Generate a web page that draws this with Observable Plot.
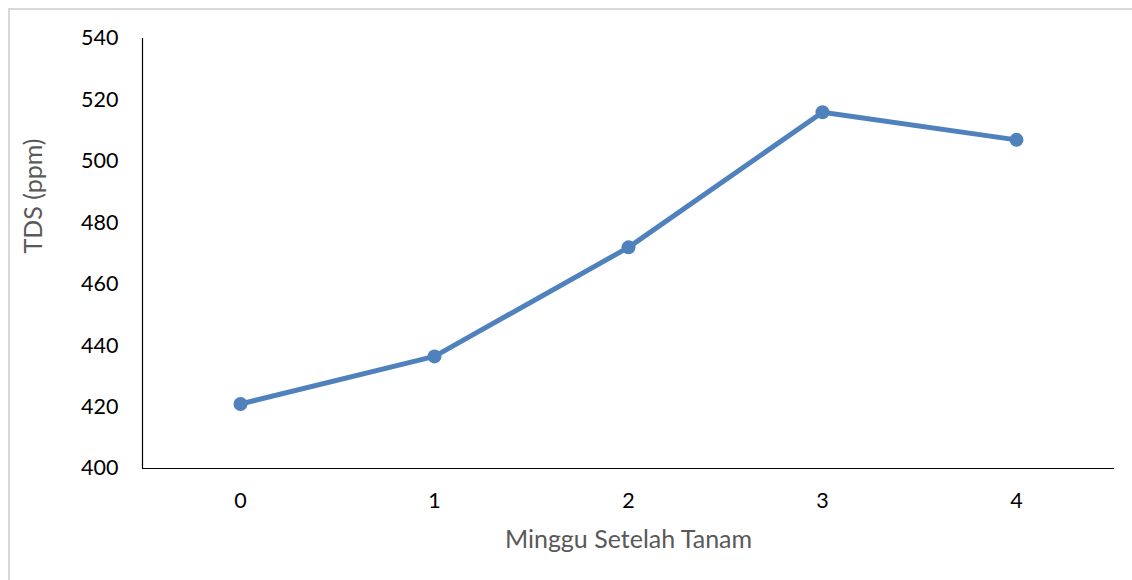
<!DOCTYPE html>
<html>
<head>
<meta charset="utf-8">
<script src="https://cdn.jsdelivr.net/npm/d3@7"></script>
<script src="https://cdn.jsdelivr.net/npm/@observablehq/plot@0.6"></script>
<style>
  html, body { margin: 0; padding: 0; background: #fff; }
  #wrap { position: relative; width: 1132px; height: 580px; overflow: hidden; }
  #border { position: absolute; left: 8px; top: 8px; width: 1200px; height: 700px;
            border-left: 2px solid #d9d9d9; border-top: 2px solid #d9d9d9; box-sizing: border-box; }
  #chart { position: absolute; left: 0; top: 0; }
</style>
</head>
<body>
<div id="wrap"><div id="border"></div><div id="chart"></div></div>
<script>
const weeks = ["0", "1", "2", "3", "4"];
const tds = [421, 436.5, 472, 516, 507];
const yTicks = [400, 420, 440, 460, 480, 500, 520, 540];
const xTitle = "Minggu Setelah Tanam";
const yTitle = "TDS (ppm)";

const data = weeks.map((w, i) => ({week: w, value: tds[i]}));
const font = "Lato, 'Open Sans', sans-serif";

const chart = Plot.plot({
  width: 1132,
  height: 580,
  marginLeft: 142,
  marginRight: 18,
  marginTop: 38,
  marginBottom: 112,
  style: {fontFamily: font, background: "transparent"},
  x: {type: "point", domain: weeks, padding: 0.5},
  y: {domain: [400, 540]},
  marks: [
    Plot.axisY({ticks: yTicks, tickSize: 0, tickPadding: 24, fontSize: 21.5, color: "#000", label: null}),
    Plot.axisX({tickSize: 0, tickPadding: 24, fontSize: 21.5, color: "#000", label: null}),
    Plot.ruleY([400], {stroke: "#000", strokeWidth: 1.2}),
    Plot.frame({anchor: "left", stroke: "#000", strokeWidth: 1.2}),
    Plot.line(data, {x: "week", y: "value", stroke: "#4f81bd", strokeWidth: 5, strokeLinejoin: "round"}),
    Plot.dot(data, {x: "week", y: "value", r: 7, fill: "#4f81bd", stroke: "none"}),
    Plot.text([yTitle], {frameAnchor: "left", dx: -109, rotate: -90, fontSize: 25, fill: "#595959", fontFamily: font}),
    Plot.text([xTitle], {frameAnchor: "bottom", dy: 79, fontSize: 25, fill: "#595959", fontFamily: font})
  ]
});
document.getElementById("chart").appendChild(chart);
</script>
</body>
</html>
